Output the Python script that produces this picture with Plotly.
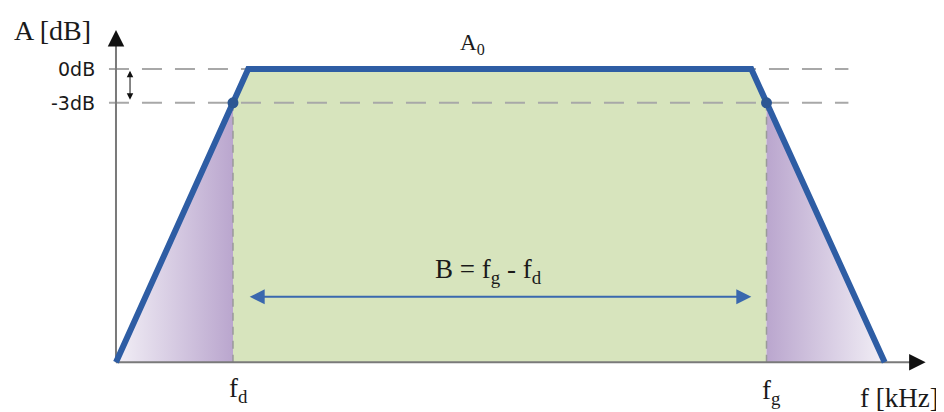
import plotly.graph_objects as go

# Frequency positions (arbitrary units, origin at 0)
F_ORIGIN = 0.0
F_D = 1.0
F_TOP = [1.13, 5.43]
F_G = 5.56
F_END = 6.57
F_AXIS_END = 6.92

# Amplitude levels (dB)
A_0 = 0.0
A_3 = -3.0
A_MIN = -26.0
A_AXIS_END = 3.45
A_BAND_ARROW = -20.2

BLUE = "#2E5DA4"
GREEN = "#D7E4BD"
PURPLE_DARK = "#BAA6CE"
PURPLE_LIGHT = "#F2EFF6"
DASH_GRAY = "#A8A8A8"
AXIS_GRAY = "#7A7A7A"
SERIF = "Liberation Serif, Times New Roman, serif"
SANS = "DejaVu Sans, Verdana, sans-serif"

fig = go.Figure()

# Passband (green)
fig.add_trace(go.Scatter(
    x=[F_D, F_D, F_TOP[0], F_TOP[1], F_G, F_G],
    y=[A_MIN, A_3, A_0, A_0, A_3, A_MIN],
    fill="toself", fillcolor=GREEN, mode="none", hoverinfo="skip",
))

# Left and right skirts (purple gradient)
fig.add_trace(go.Scatter(
    x=[F_ORIGIN, F_D, F_D], y=[A_MIN, A_3, A_MIN],
    fill="toself", mode="none", hoverinfo="skip",
    fillgradient=dict(type="horizontal", start=F_ORIGIN, stop=F_D,
                      colorscale=[[0, PURPLE_LIGHT], [1, PURPLE_DARK]]),
))
fig.add_trace(go.Scatter(
    x=[F_G, F_G, F_END], y=[A_MIN, A_3, A_MIN],
    fill="toself", mode="none", hoverinfo="skip",
    fillgradient=dict(type="horizontal", start=F_G, stop=F_END,
                      colorscale=[[0, PURPLE_DARK], [1, PURPLE_LIGHT]]),
))

# Dashed reference lines
for lvl in [A_0, A_3]:
    fig.add_trace(go.Scatter(
        x=[-0.06, 6.26], y=[lvl, lvl], mode="lines", hoverinfo="skip",
        line=dict(color=DASH_GRAY, width=2, dash="20px,13px"),
    ))
for f in [F_D, F_G]:
    fig.add_trace(go.Scatter(
        x=[f, f], y=[A_3, A_MIN], mode="lines", hoverinfo="skip",
        line=dict(color="#9A9A9A", width=1.5, dash="8px,6px"),
    ))

# Axes
fig.add_trace(go.Scatter(
    x=[F_ORIGIN, F_ORIGIN], y=[A_AXIS_END - 0.8, A_MIN], mode="lines", hoverinfo="skip",
    line=dict(color=AXIS_GRAY, width=2),
))
fig.add_trace(go.Scatter(
    x=[F_ORIGIN, F_AXIS_END - 0.08], y=[A_MIN, A_MIN], mode="lines", hoverinfo="skip",
    line=dict(color=AXIS_GRAY, width=2),
))

# Response curve
fig.add_trace(go.Scatter(
    x=[F_ORIGIN, F_TOP[0], F_TOP[1], F_END], y=[A_MIN, A_0, A_0, A_MIN],
    mode="lines", hoverinfo="skip", line=dict(color=BLUE, width=6),
))
fig.add_trace(go.Scatter(
    x=[F_D, F_G], y=[A_3, A_3], mode="markers", hoverinfo="skip",
    marker=dict(color="#2C5793", size=11),
))

# Arrow heads and double arrows
arrows = [
    dict(x=F_ORIGIN, y=A_AXIS_END, ax=F_ORIGIN, ay=A_AXIS_END - 1.2,
         arrowcolor="#111111", arrowwidth=1.5, arrowsize=2.2, arrowside="end"),
    dict(x=F_AXIS_END, y=A_MIN, ax=F_AXIS_END - 0.12, ay=A_MIN,
         arrowcolor="#111111", arrowwidth=1.5, arrowsize=2.2, arrowside="end"),
    dict(x=0.12, y=A_0 - 0.15, ax=0.12, ay=A_3 + 0.15,
         arrowcolor="#111111", arrowwidth=1, arrowsize=1.3, arrowside="end+start"),
    dict(x=F_TOP[1], y=A_BAND_ARROW, ax=F_TOP[0], ay=A_BAND_ARROW,
         arrowcolor="#3A68AE", arrowwidth=2, arrowsize=1.5, arrowside="end+start"),
]
for a in arrows:
    fig.add_annotation(text="", showarrow=True, xref="x", yref="y", axref="x", ayref="y",
                       arrowhead=2, standoff=0, startstandoff=0, **a)

# Labels
labels = [
    ("A [dB]", -0.545, 3.4, SERIF, 28, "center"),
    ("0dB", -0.16, A_0, SANS, 19, "right"),
    ("-3dB", -0.16, A_3, SANS, 19, "right"),
    ("A<sub>0</sub>", 3.05, 2.2, SERIF, 23, "center"),
    ("B = f<sub>g</sub> - f<sub>d</sub>", 3.18, -17.9, SERIF, 27, "center"),
    ("f<sub>d</sub>", 1.05, -28.5, SERIF, 27, "center"),
    ("f<sub>g</sub>", 5.6, -28.6, SERIF, 27, "center"),
    ("f [kHz]", 6.7, -29.2, SERIF, 27, "center"),
]
for text, x, y, fam, size, anchor in labels:
    fig.add_annotation(text=text, x=x, y=y, xref="x", yref="y", showarrow=False,
                       xanchor=anchor, yanchor="middle",
                       font=dict(family=fam, size=size, color="#1A1A1A"))

# Axes span the whole canvas (117 px per f unit, 11.28 px per dB);
# the figure is 8px smaller than the window to leave room for the page's body margin
fig.update_layout(
    width=936, height=404,
    margin=dict(l=0, r=0, t=0, b=0),
    paper_bgcolor="white", plot_bgcolor="white",
    showlegend=False,
    xaxis=dict(range=[-0.923, 7.077], visible=False, fixedrange=True),
    yaxis=dict(range=[-30.41, 5.41], visible=False, fixedrange=True),
)

fig.write_html("out.html")
